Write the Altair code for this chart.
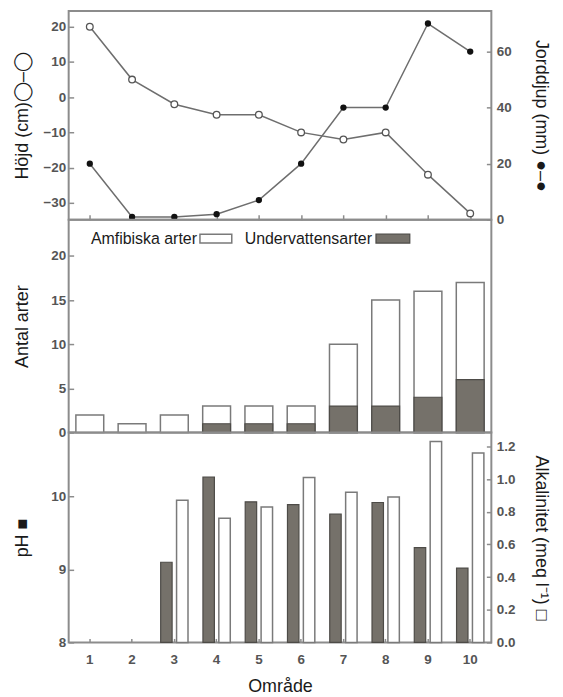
import altair as alt
import pandas as pd

# ---------------- data ----------------
omrade = [1, 2, 3, 4, 5, 6, 7, 8, 9, 10]
hojd_cm = [20, 5, -2, -5, -5, -10, -12, -10, -22, -33]
jorddjup_mm = [20, 1, 1, 2, 7, 20, 40, 40, 70, 60]
antal_totalt = [2, 1, 2, 3, 3, 3, 10, 15, 16, 17]
undervattensarter = [0, 0, 0, 1, 1, 1, 3, 3, 4, 6]
ph_omrade = [3, 4, 5, 6, 7, 8, 9, 10]
ph_varden = [9.10, 10.27, 9.93, 9.89, 9.76, 9.92, 9.30, 9.02]
alkalinitet = [0.87, 0.76, 0.83, 1.01, 0.92, 0.89, 1.23, 1.16]
legend_labels = ["Amfibiska arter", "Undervattensarter"]
serier = ["pH", "Alk"]

# ---------------- style ----------------
W = 425
H_TOP, H_MID, H_BOT = 210, 214, 211
FONT = "Liberation Sans"
FRAME = "#8c8c8c"
LINE = "#6e6e6e"
DARK = "#75716a"
DARK_STROKE = "#4d4b47"
WHITE_STROKE = "#7a7a7a"
TXT = "#1a1a1a"
LAB = "#555555"

top_df = pd.DataFrame({"omr": omrade, "hojd": hojd_cm, "jord": jorddjup_mm})
mid_df = pd.DataFrame({"omr": omrade, "total": antal_totalt, "under": undervattensarter})
ph_df = pd.DataFrame({"omr": ph_omrade, "ph": ph_varden, "serie": serier[0]})
alk_df = pd.DataFrame({"omr": ph_omrade, "alk": alkalinitet, "serie": serier[1]})
one = pd.DataFrame({"k": [0]})


def xscale():
    return alt.Scale(domain=omrade, paddingInner=0, paddingOuter=0)


def yaxis(orient, values, title, H, fmt=None):
    left = orient == "left"
    kw = dict(
        orient=orient, values=values, title=title, offset=-5, tickSize=5,
        tickColor=FRAME, tickWidth=1.5, domain=False, grid=False,
        labelPadding=3 if left else 5, labelFlush=False, labelOverlap=False,
        titleAngle=-90 if left else 90, titleBaseline="middle", titleAlign="center",
        titleX=-51 if left else 54, titleY=H / 2,
    )
    if fmt:
        kw["format"] = fmt
    return alt.Axis(**kw)


# ---------------- top panel ----------------
x_top = alt.X("omr:O", scale=xscale(), axis=alt.Axis(
    orient="bottom", labels=False, title=None, offset=-5, tickSize=5,
    tickColor=FRAME, tickWidth=1.5, domain=False, grid=False))

y_h = alt.Y("hojd:Q", scale=alt.Scale(domain=[-34.8, 24.5], nice=False, zero=False),
            axis=yaxis("left", [-30, -20, -10, 0, 10, 20], "Höjd (cm)◯–◯", H_TOP))
y_j = alt.Y("jord:Q", scale=alt.Scale(domain=[0, 74.5], nice=False),
            axis=yaxis("right", [0, 20, 40, 60], "Jorddjup (mm) ●–●", H_TOP))

h_line = alt.Chart(top_df).mark_line(color=LINE, strokeWidth=1.5).encode(x=x_top, y=y_h)
h_pts = alt.Chart(top_df).mark_point(shape="circle", filled=True, fill="white",
                                     stroke="#555555", strokeWidth=1.3, size=45,
                                     opacity=1).encode(x=x_top, y=y_h)
j_line = alt.Chart(top_df).mark_line(color=LINE, strokeWidth=1.5).encode(x=x_top, y=y_j)
j_pts = alt.Chart(top_df).mark_point(shape="circle", filled=True, color="#111111",
                                     size=40, opacity=1).encode(x=x_top, y=y_j)

top = alt.layer(alt.layer(h_line, h_pts), alt.layer(j_line, j_pts)).resolve_scale(
    y="independent").properties(width=W, height=H_TOP)

# ---------------- middle panel ----------------
x_mid = alt.X("omr:O", scale=xscale(), axis=None)
ysc_mid = alt.Scale(domain=[0, 24.1], nice=False)
ax_mid = yaxis("left", [0, 5, 10, 15, 20], "Antal arter", H_MID)

white_bars = alt.Chart(mid_df).mark_bar(width=28, fill="white", stroke=WHITE_STROKE,
                                        strokeWidth=1.5).encode(
    x=x_mid, y=alt.Y("total:Q", scale=ysc_mid, axis=ax_mid))
dark_bars = alt.Chart(mid_df).transform_filter("datum.under > 0").mark_bar(
    width=28, fill=DARK, stroke=DARK_STROKE, strokeWidth=1.2).encode(
    x=x_mid, y=alt.Y("under:Q", scale=ysc_mid, axis=ax_mid))

leg_t1 = alt.Chart(one).mark_text(align="right", baseline="middle", font=FONT,
                                  fontSize=16, color=TXT).encode(
    x=alt.value(129), y=alt.value(19), text=alt.value(legend_labels[0]))
leg_s1 = alt.Chart(one).mark_rect(fill="white", stroke=WHITE_STROKE, strokeWidth=1.5).encode(
    x=alt.value(132), x2=alt.value(164), y=alt.value(14.5), y2=alt.value(23.5))
leg_t2 = alt.Chart(one).mark_text(align="right", baseline="middle", font=FONT,
                                  fontSize=16, color=TXT).encode(
    x=alt.value(305), y=alt.value(19), text=alt.value(legend_labels[1]))
leg_s2 = alt.Chart(one).mark_rect(fill=DARK, stroke=DARK_STROKE, strokeWidth=1.2).encode(
    x=alt.value(309), x2=alt.value(343), y=alt.value(14.5), y2=alt.value(23.5))

mid = alt.layer(white_bars, dark_bars, leg_t1, leg_s1, leg_t2, leg_s2).properties(
    width=W, height=H_MID)

# ---------------- bottom panel ----------------
x_bot = alt.X("omr:O", scale=xscale(), axis=alt.Axis(
    orient="bottom", title="Område", offset=-4, tickSize=4, tickColor=FRAME,
    tickWidth=1.5, domain=False, grid=False, labelAngle=0, labelPadding=10,
    titleY=48, titleBaseline="middle", titleFontSize=18))
xoff = alt.XOffset("serie:N", scale=alt.Scale(domain=serier, paddingInner=0.28,
                                             paddingOuter=0.47))

ph_bars = alt.Chart(ph_df).mark_bar(fill=DARK, stroke=DARK_STROKE, strokeWidth=1.2).encode(
    x=x_bot, xOffset=xoff,
    y=alt.Y("ph:Q", scale=alt.Scale(domain=[8, 10.88], nice=False, zero=False),
            axis=yaxis("left", [8, 9, 10], "pH ■", H_BOT)),
    y2=alt.datum(8))
alk_bars = alt.Chart(alk_df).mark_bar(fill="white", stroke=WHITE_STROKE,
                                      strokeWidth=1.5).encode(
    x=x_bot, xOffset=xoff,
    y=alt.Y("alk:Q", scale=alt.Scale(domain=[0, 1.285], nice=False),
            axis=yaxis("right", [0, 0.2, 0.4, 0.6, 0.8, 1.0, 1.2],
                       "Alkalinitet (meq l⁻¹) □", H_BOT, fmt=".1f")))

bot = alt.layer(ph_bars, alk_bars).resolve_scale(y="independent").properties(
    width=W, height=H_BOT)

chart = alt.vconcat(top, mid, bot, spacing=0, bounds="flush").properties(
    padding={"left": 5, "top": 0, "right": 5, "bottom": 5},
    background="white",
).configure_view(stroke=FRAME, strokeWidth=2).configure_axis(
    labelFont=FONT, labelFontSize=13.5, labelFontWeight="bold", labelColor=LAB,
    titleFont=FONT, titleFontSize=18, titleFontWeight="normal", titleColor=TXT)

chart.save("out.html", embed_options={"renderer": "svg", "actions": False})
